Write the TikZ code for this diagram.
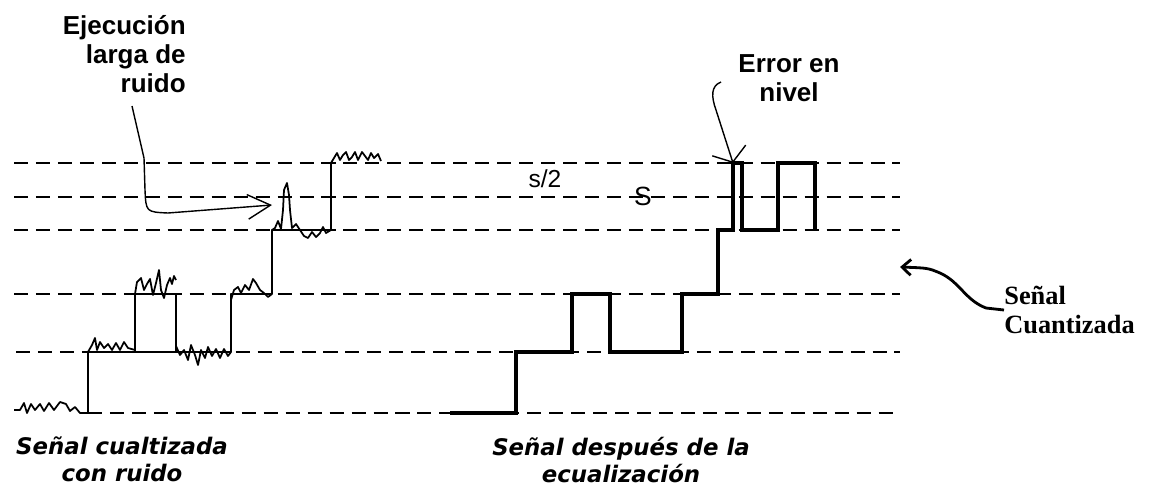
\documentclass[tikz,border=0pt]{standalone}
\usepackage{fontspec}
\newfontfamily\headfont{Liberation Sans}
\newfontfamily\capfont{DejaVu Sans}
\newfontfamily\quantfont{Liberation Serif}
\definecolor{ink}{HTML}{000000}
\usetikzlibrary{arrows.meta}
\tikzset{
  lvline/.style={draw=ink, line width=1.1pt, dash pattern=on 8pt off 4.5pt},
  sig/.style={draw=ink, line width=1.8pt},
  thinsig/.style={draw=ink, line width=1pt, line join=round},
  arr/.style={draw=ink, line width=0.8pt},
  headlbl/.style={font=\headfont\fontsize{14.8}{16.5}\selectfont\bfseries, text=ink, inner sep=0pt},
  caplbl/.style={font=\capfont\fontsize{13}{15.5}\selectfont\bfseries\itshape, text=ink,
    inner sep=0pt, align=center},
}
\begin{document}
\begin{tikzpicture}[x=0.02cm, y=-0.02cm]
  \useasboundingbox (0,0) rectangle (1152,494);

  % quantisation levels
  \foreach \yy/\xs in {163/14, 197/14, 230/14, 294/14, 352/16, 413/88}
    \draw[lvline] (\xs,\yy) -- (900,\yy);

  % noisy quantised signal
  \draw[thinsig] (88,413) |- (135,352) |- (176,294) |- (231,352) |- (272,294)
    |- (331,230) -- (331,163);
  \draw[thinsig] (135,352) -- (176,352);
  \draw[thinsig] (14,410) -- (20,410) -- (24,403) -- (27,413) -- (31,404) -- (35,410)
    -- (40,404) -- (44,411) -- (49,403) -- (54,410) -- (60,402) -- (66,404) -- (70,411)
    -- (75,407) -- (80,413) -- (88,413);
  \draw[thinsig] (88,352) -- (92,345) -- (95,338) -- (97,350) -- (100,342) -- (104,348)
    -- (108,344) -- (112,350) -- (116,343) -- (120,350) -- (124,342) -- (128,348) -- (135,350);
  \draw[thinsig] (135,294) -- (137,282) -- (141,278) -- (144,290) -- (147,284) -- (150,279)
    -- (153,295) -- (156,283) -- (159,270) -- (161,290) -- (164,298) -- (167,285)
    -- (170,278) -- (172,284) -- (174,276) -- (176,280);
  \draw[thinsig] (176,346) -- (180,355) -- (184,350) -- (188,360) -- (191,345) -- (195,355)
    -- (198,365) -- (201,350) -- (205,358) -- (208,347) -- (212,356) -- (216,349)
    -- (220,358) -- (224,349) -- (228,356) -- (231,352);
  \draw[thinsig] (231,300) -- (234,290) -- (238,287) -- (241,293) -- (245,285) -- (249,290)
    -- (253,279) -- (256,283) -- (260,290) -- (264,293) -- (268,297) -- (272,294);
  \draw[thinsig] (272,230) -- (275,228) -- (278,221) -- (281,229) -- (283,210) -- (284,190)
    -- (287,183) -- (289,195) -- (290,210) -- (292,228) -- (296,224) -- (300,230)
    -- (304,236) -- (308,238) -- (312,232) -- (316,237) -- (320,233) -- (323,227)
    -- (326,233) -- (331,230);
  \draw[thinsig] (331,163) -- (334,158) -- (337,153) -- (340,160) -- (343,155) -- (346,152)
    -- (349,160) -- (352,157) -- (355,152) -- (358,160) -- (362,152) -- (365,156)
    -- (368,160) -- (371,153) -- (374,158) -- (378,154) -- (381,161);

  % signal after equalisation
  \draw[sig] (450,413) -| (516,352) -| (572,294) -| (610,352) -| (682,294) -| (718,230)
    -| (733,163) -| (742,230) -| (778,163) -| (815,230);

  % labels
  \node[headlbl, align=right, anchor=east] (ejec) at (186,54)
    {Ejecución\\larga de\\ruido};
  \node[headlbl, align=center] (err) at (789,78) {Error en\\nivel};
  \node[font=\headfont\fontsize{14}{16}\selectfont, inner sep=0pt] (half) at (545,179) {s/2};
  \node[font=\headfont\fontsize{15}{16}\selectfont, inner sep=0pt] (step) at (643,196) {S};
  \node[font=\quantfont\fontsize{15}{17}\selectfont\bfseries, align=left, anchor=west, inner sep=0pt]
    (cuant) at (1004,310) {Señal\\Cuantizada};
  \node[caplbl] (capnoise) at (122,459) {Señal cualtizada\\con ruido};
  \node[caplbl] (capeq) at (621,460) {Señal  después de la\\ecualización};

  % pointers
  \coordinate (ejecfrom) at (132,106);
  \coordinate (spike) at (272,205);
  \coordinate (errfrom) at (721,82);
  \coordinate (errpulse) at (733,163);
  \coordinate (cuantto) at (900,267);
  \draw[arr, -{Straight Barb[length=13pt,width=14pt]}] (ejecfrom) -- (144,158) -- (145,190)
    .. controls (146,212) .. (168,213) -- (spike);
  \draw[arr, -{Straight Barb[length=7pt,width=20pt]}] (errfrom)
    .. controls (711,86) and (711,96) .. (716,110) -- (errpulse);
  \draw[arr, line width=1.6pt, -{Straight Barb[length=5pt,width=9pt]}] (cuant.west) -- (986,308)
    .. controls (965,300) and (960,282) .. (940,273) .. controls (928,268) .. (cuantto);
\end{tikzpicture}
\end{document}
